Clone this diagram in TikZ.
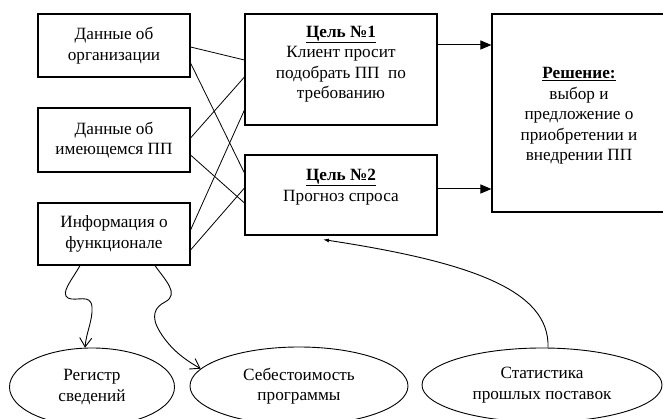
\documentclass[tikz,border=0pt]{standalone}
\usepackage{fontspec}
\setmainfont{Liberation Serif}
\usetikzlibrary{arrows.meta,shapes.geometric,calc}
\begin{document}
\begin{tikzpicture}[x=1pt,y=-1pt,
  font=\fontsize{17.2}{20.5}\selectfont,
  box/.style={draw, line width=1.1pt, rectangle, inner sep=0pt, align=center},
  ell/.style={draw, line width=0.9pt, ellipse, inner sep=0pt, align=center},
  txt/.style={inner sep=0pt, align=center},
  link/.style={line width=0.8pt},
  garr/.style={line width=1pt, -{Triangle[length=11pt,width=9pt]}},
  warr/.style={line width=0.9pt, -{Straight Barb[length=9pt,width=12pt]}},
  sarr/.style={line width=0.9pt, -{Latex[length=6pt,width=4pt]}}]
\useasboundingbox (0,0) rectangle (663,419);
\clip (0,0) rectangle (663,419);
% left boxes
\node[box, minimum width=152pt, minimum height=63pt] (b1) at (114,45.5) {Данные об\\организации};
\node[box, minimum width=152pt, minimum height=64pt] (b2) at (114,140) {Данные об\\имеющемся ПП};
\node[box, minimum width=152pt, minimum height=62pt] (b3) at (114,234) {Информация о\\функционале};
% goal boxes
\node[box, minimum width=192pt, minimum height=111pt] (g1) at (341,69.5) {};
\node[txt] (g1t) at (341,64) {\underline{\textbf{Цель №1}}\\Клиент просит\\подобрать ПП~~по\\требованию};
\node[box, minimum width=192pt, minimum height=80pt] (g2) at (341,195) {};
\node[txt] (g2t) at (341,187) {\underline{\textbf{Цель №2}}\\Прогноз спроса};
% solution
\node[box, minimum width=173pt, minimum height=198pt] (s) at (578.5,113) {};
\node[txt] (st) at (579,116) {\underline{\textbf{Решение:}}\\выбор и\\предложение о\\приобретении и\\внедрении ПП};
% ellipses
\node[ell, minimum width=165pt, minimum height=78pt] (e1) at (92,387) {Регистр\\сведений};
\node[ell, minimum width=218pt, minimum height=78pt] (e2) at (299,386) {Себестоимость\\программы};
\node[ell, minimum width=240pt, minimum height=74pt] (e3) at (542,385) {Статистика\\прошлых поставок};
% crossing links
\draw[link] ([yshift=-1.5pt]b1.east) -- ([yshift=9.5pt]g1.west);
\draw[link] ([yshift=-17.5pt]b1.east) -- ([yshift=22pt]g2.west);
\draw[link] ([yshift=2pt]b2.east) -- ([yshift=-7.5pt]g1.west);
\draw[link] ([yshift=-15pt]b2.east) -- ([yshift=-8pt]g2.west);
\draw[link] ([yshift=4pt]b3.east) -- ([yshift=-40.5pt]g1.west);
\draw[link] ([yshift=-16pt]b3.east) -- ([yshift=7pt]g2.west);
% goal -> solution
\draw[garr] ([yshift=24.5pt]g1.east) -- ([yshift=24.5pt]g1.east -| s.west);
\draw[garr] ([yshift=6pt]g2.east) -- ([yshift=6pt]g2.east -| s.west);
% wavy arrows
\draw[warr] ([xshift=-34pt]b3.south) .. controls (72,280) and (60,293) .. (68,298)
  .. controls (76,302) and (91,293) .. (92,307)
  .. controls (93,320) and (86,333) .. (e1.100);
\draw[warr] ([xshift=41pt]b3.south) .. controls (165,280) and (180,294) .. (165,302)
  .. controls (155,307) and (150,316) .. (160,332)
  .. controls (170,348) and (182,358) .. (e2.170);
% statistics -> goal 2
\draw[sarr] ([xshift=6pt]e3.north) .. controls (550,290) and (470,262) .. ([xshift=-18pt,yshift=-4pt]g2.south);
\end{tikzpicture}
\end{document}
